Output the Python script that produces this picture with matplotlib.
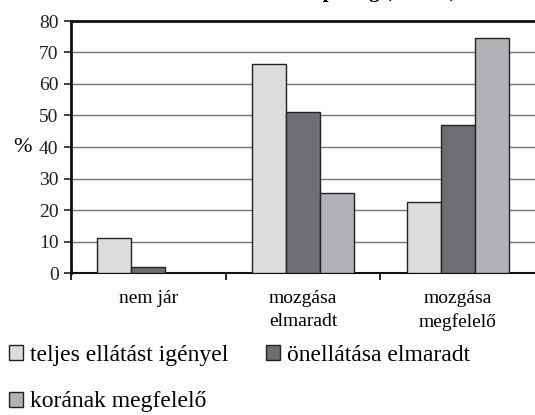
import matplotlib.pyplot as plt
import numpy as np
from matplotlib.patches import Patch

categories = ['nem jár', 'mozgása\nelmaradt', 'mozgása\nmegfelelő']
series_names = ['teljes ellátást igényel', 'önellátása elmaradt', 'korának megfelelő']
teljes = [11, 66.5, 22.5]
onellatas = [2, 51, 47]
koranak = [0, 25.5, 74.5]
colors = ['#dcdcde', '#6d6e71', '#b1b2b5']

plt.rcParams['font.family'] = ['Liberation Serif', 'DejaVu Serif']

fig = plt.figure(figsize=(5.35, 4.15), dpi=100)
ax = fig.add_axes([71 / 535, 1 - 273 / 415, 1 - 71 / 535, (273 - 21) / 415])

x = np.arange(len(categories))
w = 0.22
for i, (vals, c) in enumerate(zip([teljes, onellatas, koranak], colors)):
    ax.bar(x + (i - 1) * w, vals, w, color=c, edgecolor='#222222', linewidth=1.0, zorder=3)

ax.set_xlim(-0.5, 2.5)
ax.set_ylim(0, 80)
ax.set_yticks(range(0, 81, 10))
ax.yaxis.grid(True, color='#777777', linewidth=1.0, zorder=0)
ax.tick_params(axis='y', direction='out', length=5, width=1.2, labelsize=14, pad=4, colors='#222222')
ax.set_xticks(x)
ax.set_xticklabels(categories, fontsize=14, linespacing=1.45)
ax.set_xticks([-0.5, 0.5, 1.5], minor=True)
ax.tick_params(axis='x', which='major', length=0, pad=12)
ax.tick_params(axis='x', which='minor', direction='out', length=5, width=1.2)

for s in ['left', 'top']:
    ax.spines[s].set_linewidth(2)
    ax.spines[s].set_color('#111111')
ax.spines['bottom'].set_linewidth(1.5)
ax.spines['bottom'].set_color('#111111')
ax.spines['right'].set_visible(False)

ax.set_ylabel('%', rotation=0, fontsize=16, labelpad=12, va='center')

# title sits mostly above the top edge, only the descenders show
fig.text(0.62, 1.0 + 3.3 / 415, 'Önellátási képesség (N=120)', ha='center', va='baseline',
         fontsize=15, fontweight='bold')

handles = [Patch(facecolor=c, edgecolor='#222222', linewidth=1.0) for c in colors]
order = [0, 2, 1]
fig.legend([handles[i] for i in order], [series_names[i] for i in order],
           ncol=2, loc='upper left', bbox_to_anchor=(-8 / 535, 1 - 328 / 415),
           frameon=False, fontsize=17, handlelength=0.6, handleheight=0.6,
           handletextpad=0.3, columnspacing=1.6, labelspacing=1.1, borderaxespad=0.3)

fig.savefig('out.png', dpi=100)
